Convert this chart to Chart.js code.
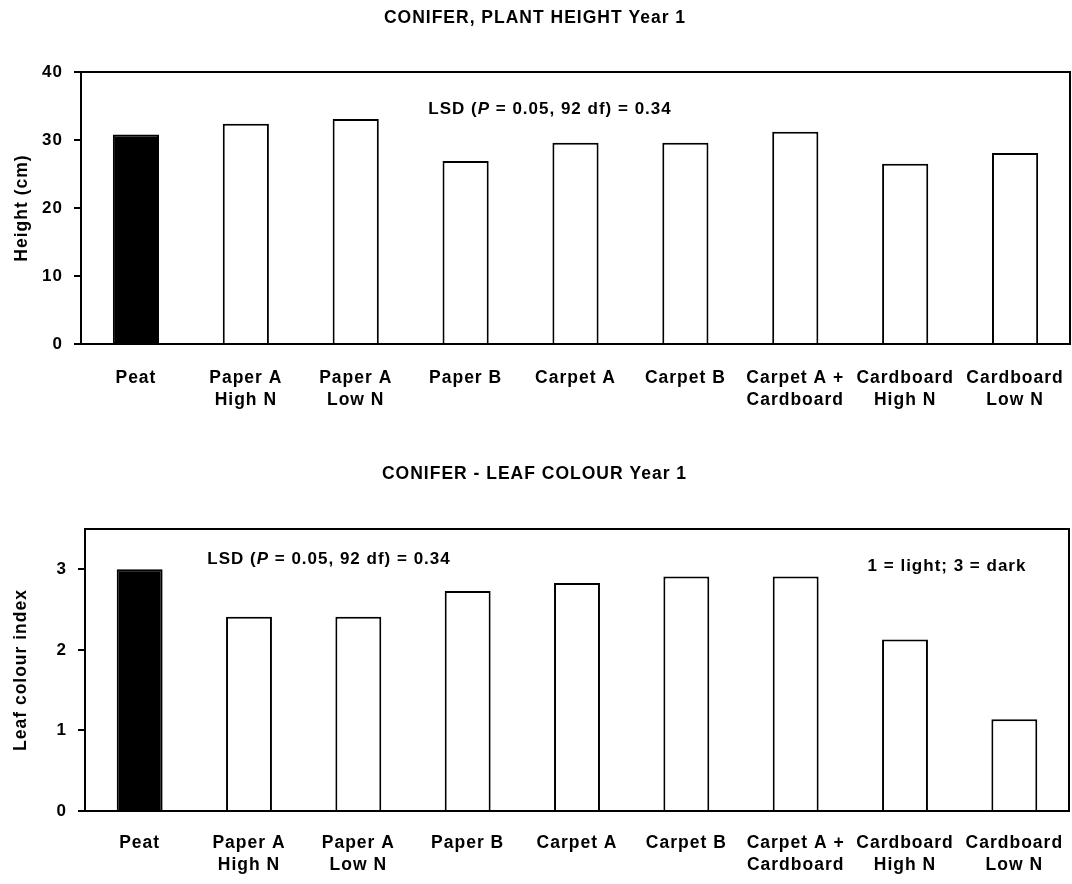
<!DOCTYPE html>
<html>
<head>
<meta charset="utf-8">
<script src="https://cdn.jsdelivr.net/npm/chart.js@4.4.0/dist/chart.umd.min.js"></script>
<style>
  body { margin: 0; background: #fff; }
  canvas { display: block; }
</style>
</head>
<body>
<canvas id="heightChart" width="1072" height="440"></canvas>
<canvas id="colourChart" width="1072" height="444"></canvas>
<script>
const treatments = [
  ['Peat'],
  ['Paper A', 'High N'],
  ['Paper A', 'Low N'],
  ['Paper B'],
  ['Carpet A'],
  ['Carpet B'],
  ['Carpet A +', 'Cardboard'],
  ['Cardboard', 'High N'],
  ['Cardboard', 'Low N']
];
const heightCm = [30.8, 32.4, 33.1, 26.9, 29.6, 29.6, 31.2, 26.5, 28.1];
const leafColour = [3.0, 2.41, 2.41, 2.73, 2.83, 2.91, 2.91, 2.13, 1.14];
const heightTicks = [0, 10, 20, 30, 40];
const colourTicks = [0, 1, 2, 3];

const FONT = "'Liberation Sans', Arial, sans-serif";
const bold = (size) => ({ family: FONT, size: size, weight: 'bold', lineHeight: 1.2 });

// peat is the control, drawn solid; the rest are open bars
const barFill = treatments.map((t, i) => i === 0 ? '#000' : '#fff');

// slightly spaced-out lettering, set before layout so measurements agree
const spacing = {
  id: 'spacing',
  beforeUpdate(chart) { chart.ctx.letterSpacing = '1px'; },
  beforeDraw(chart) { chart.ctx.letterSpacing = '1px'; }
};

// box round the plot area
const frame = {
  id: 'frame',
  afterDatasetsDraw(chart) {
    const { ctx, chartArea: a } = chart;
    ctx.save();
    ctx.strokeStyle = '#000';
    ctx.lineWidth = 2;
    ctx.strokeRect(a.left, a.top, a.right - a.left, a.bottom - a.top);
    ctx.restore();
  }
};

// free text inside the plot, made of runs so P can be italic
const notes = {
  id: 'notes',
  afterDraw(chart, args, opts) {
    const ctx = chart.ctx;
    (opts.items || []).forEach(item => {
      ctx.save();
      ctx.fillStyle = '#000';
      ctx.textBaseline = 'middle';
      ctx.textAlign = 'left';
      let total = 0;
      item.parts.forEach(p => { ctx.font = p.font; total += ctx.measureText(p.text).width; });
      let x = item.x - total / 2;
      item.parts.forEach(p => {
        ctx.font = p.font;
        ctx.fillText(p.text, x, item.y);
        x += ctx.measureText(p.text).width;
      });
      ctx.restore();
    });
  }
};

const B17 = "bold 17px " + FONT;
const BI17 = "italic bold 17px " + FONT;
const lsdParts = [
  { text: 'LSD (', font: B17 },
  { text: 'P', font: BI17 },
  { text: ' = 0.05, 92 df) = 0.34', font: B17 }
];

function makeChart(id, cfg) {
  return new Chart(document.getElementById(id), {
    type: 'bar',
    data: {
      labels: treatments,
      datasets: [{
        data: cfg.values,
        backgroundColor: barFill,
        borderColor: '#000',
        borderWidth: 2,
        borderSkipped: 'start',
        barPercentage: 0.42,
        categoryPercentage: 1.0
      }]
    },
    options: {
      responsive: false,
      animation: false,
      layout: { padding: { left: 0, right: cfg.padRight, top: 0, bottom: 0 } },
      plugins: {
        legend: { display: false },
        tooltip: { enabled: false },
        title: {
          display: true,
          text: cfg.title,
          color: '#000',
          font: bold(17.5),
          padding: cfg.titlePad
        },
        notes: { items: cfg.notes }
      },
      scales: {
        x: {
          grid: { display: false, drawTicks: false },
          border: { display: false },
          ticks: { color: '#000', font: { family: FONT, size: 17.5, weight: 'bold', lineHeight: 1.25 }, padding: cfg.labelPad, maxRotation: 0, autoSkip: false },
          afterFit(scale) {
            scale.height = cfg.xHeight;
            scale.paddingLeft = 0;
            scale.paddingRight = 0;
          }
        },
        y: {
          min: 0,
          max: cfg.max,
          afterBuildTicks(scale) { scale.ticks = cfg.ticks.map(v => ({ value: v })); },
          grid: { drawOnChartArea: false, drawTicks: true, tickLength: 7, color: '#000', lineWidth: 2 },
          border: { display: true, color: '#000', width: 2 },
          ticks: { color: '#000', font: bold(17), padding: 11 },
          title: { display: true, text: cfg.yTitle, color: '#000', font: bold(17.5), padding: { top: cfg.yTitlePad, bottom: 0 } },
          afterFit(scale) {
            scale.width = cfg.yWidth;
            scale.paddingTop = 0;
            scale.paddingBottom = 0;
          }
        }
      }
    },
    plugins: [spacing, frame, notes]
  });
}

makeChart('heightChart', {
  values: heightCm,
  ticks: heightTicks,
  max: 40,
  title: 'CONIFER, PLANT HEIGHT Year 1',
  titlePad: { top: 7.5, bottom: 43.5 },
  yTitle: 'Height (cm)',
  yTitlePad: 11.5,
  yWidth: 81,
  xHeight: 96,
  labelPad: 23,
  padRight: 2,
  notes: [{ x: 550, y: 109, parts: lsdParts }]
});

makeChart('colourChart', {
  values: leafColour,
  ticks: colourTicks,
  max: 3.5,
  title: 'CONIFER - LEAF COLOUR Year 1',
  titlePad: { top: 23.5, bottom: 44.5 },
  yTitle: 'Leaf colour index',
  yTitlePad: 10.5,
  yWidth: 85,
  xHeight: 73,
  labelPad: 21,
  padRight: 3,
  notes: [
    { x: 329, y: 119.5, parts: lsdParts },
    { x: 947, y: 126.5, parts: [{ text: '1 = light; 3 = dark', font: B17 }] }
  ]
});
</script>
</body>
</html>
